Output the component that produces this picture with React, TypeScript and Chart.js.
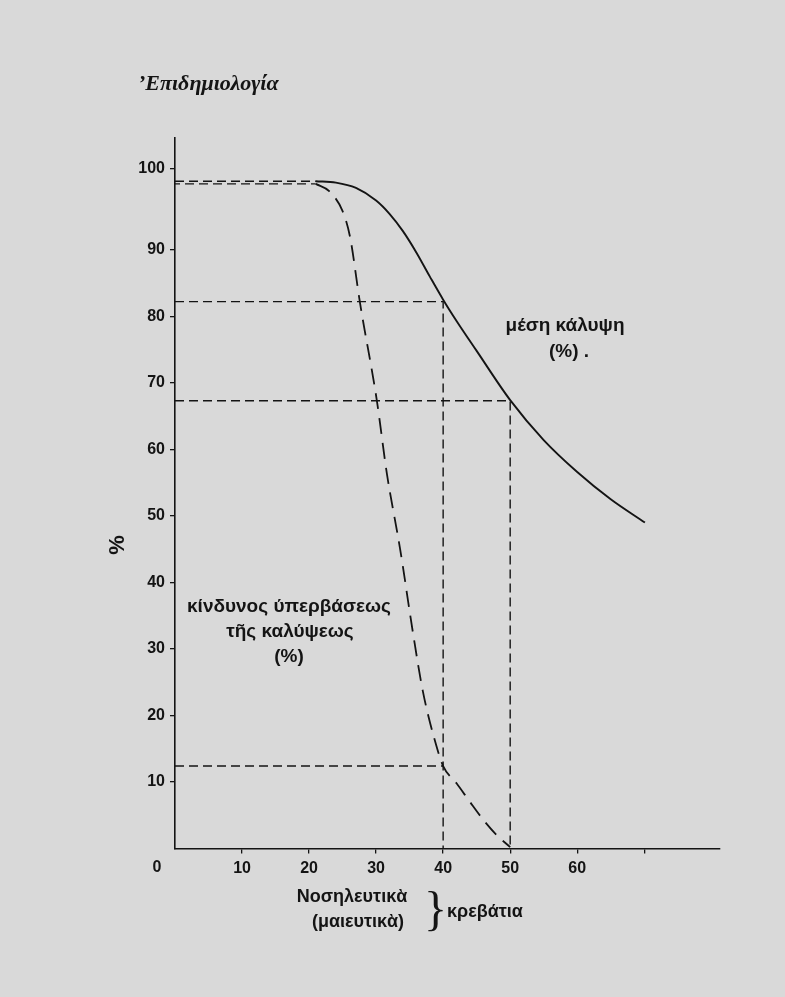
import React, { useEffect, useRef } from "react";
import { Chart, registerables } from "chart.js";

Chart.register(...registerables);

const W = 785;
const H = 997;
const BG = "#d9d9d9";
const INK = "#141414";

// axis ticks
const xTickValues = [10, 20, 30, 40, 50, 60, 70];
const xTickLabels = ["10", "20", "30", "40", "50", "60", ""];
const yTickValues = [10, 20, 30, 40, 50, 60, 70, 80, 90, 102.2];
const yTickLabels = ["10", "20", "30", "40", "50", "60", "70", "80", "90", "100"];

// μέση κάλυψη (%) — solid curve
const coverageFlatX = [0, 21];
const coverageFlatY = [100.3, 100.3];
const coverageX = [21, 24, 27, 30, 32, 34, 36, 38, 40, 42, 45, 50, 55, 60, 65, 70.1];
const coverageY = [100.3, 100.1, 99.3, 97.4, 95.4, 92.8, 89.6, 86.0, 82.5, 79.3, 74.8, 67.4, 61.4, 56.6, 52.5, 49];

// κίνδυνος ύπερβάσεως της καλύψεως (%) — dashed curve
const riskFlatX = [0, 21];
const riskFlatY = [99.9, 99.9];
const riskX = [21, 23, 25, 26.1, 27.6, 30.1, 31.6, 33.6, 35.5, 37, 39, 40, 42, 44, 46, 48, 50];
const riskY = [99.9, 98.8, 95.8, 92, 82, 67.4, 56.4, 44.9, 32.4, 23.5, 15.4, 12.4, 9.8, 7.0, 4.3, 2.0, 0.2];

// reading guides
const guideAX = [0, 40, 40];
const guideAY = [82.2, 82.2, 0];
const guideBX = [0, 50, 50];
const guideBY = [67.3, 67.3, 0];
const guideCX = [0, 40];
const guideCY = [12.4, 12.4];

const pts = (xs: number[], ys: number[]) => xs.map((x, i) => ({ x, y: ys[i] }));

const textPlugin = {
  id: "texts",
  afterDraw(chart: any) {
    const ctx = chart.ctx as CanvasRenderingContext2D;
    ctx.save();
    ctx.fillStyle = INK;
    ctx.textBaseline = "middle";

    // title
    ctx.textAlign = "left";
    ctx.font = "italic bold 22px 'Liberation Serif'";
    ctx.fillText("’Επιδημιολογία", 138, 84);

    // y title
    ctx.save();
    ctx.translate(118, 545);
    ctx.rotate(-Math.PI / 2);
    ctx.textAlign = "center";
    ctx.font = "bold 22px 'Liberation Sans'";
    ctx.fillText("%", 0, 0);
    ctx.restore();

    ctx.textAlign = "center";
    // origin label
    ctx.font = "bold 16px 'Liberation Sans'";
    ctx.fillText("0", 157, 868);

    ctx.font = "bold 19px 'Liberation Sans'";
    ctx.fillText("μέση κάλυψη", 565, 326);
    ctx.fillText("(%) .", 569, 352);
    ctx.fillText("κίνδυνος ύπερβάσεως", 289, 607);
    ctx.fillText("τῆς καλύψεως", 290, 632);
    ctx.fillText("(%)", 289, 657);

    ctx.font = "bold 18px 'Liberation Sans'";
    ctx.fillText("Νοσηλευτικὰ", 352, 897);
    ctx.fillText("(μαιευτικὰ)", 358, 922);
    ctx.textAlign = "left";
    ctx.fillText("κρεβάτια", 447, 912);
    ctx.font = "48px 'Liberation Serif'";
    ctx.fillText("}", 424, 912);
    ctx.restore();
  },
};

export default function App() {
  const ref = useRef<HTMLCanvasElement | null>(null);

  useEffect(() => {
    document.body.style.margin = "0";
    document.body.style.background = BG;
    const canvas = ref.current;
    if (!canvas) return;

    const guideStyle = {
      borderColor: INK,
      borderWidth: 1.4,
      borderDash: [9, 5],
      pointRadius: 0,
      tension: 0,
      fill: false,
    };

    const chart = new Chart(canvas, {
      type: "line",
      data: {
        datasets: [
          { ...guideStyle, data: pts(guideAX, guideAY) },
          { ...guideStyle, data: pts(guideBX, guideBY) },
          { ...guideStyle, data: pts(guideCX, guideCY) },
          { ...guideStyle, data: pts(coverageFlatX, coverageFlatY) },
          { ...guideStyle, data: pts(riskFlatX, riskFlatY), borderDashOffset: 4 },
          {
            data: pts(coverageX, coverageY),
            borderColor: INK,
            borderWidth: 1.9,
            pointRadius: 0,
            cubicInterpolationMode: "monotone",
            fill: false,
          },
          {
            data: pts(riskX, riskY),
            borderColor: INK,
            borderWidth: 1.8,
            borderDash: [16, 9],
            pointRadius: 0,
            cubicInterpolationMode: "monotone",
            fill: false,
          },
        ],
      },
      options: {
        responsive: false,
        animation: false,
        devicePixelRatio: 1,
        layout: { padding: { left: 0, right: 65, top: 138, bottom: 0 } },
        plugins: { legend: { display: false }, tooltip: { enabled: false } },
        scales: {
          x: {
            type: "linear",
            min: 0,
            max: 81.3,
            afterFit(s: any) {
              s.height = 148.5;
            },
            afterBuildTicks(s: any) {
              s.ticks = xTickValues.map((v) => ({ value: v }));
            },
            ticks: {
              autoSkip: false,
              maxRotation: 0,
              padding: 5,
              color: INK,
              font: { family: "'Liberation Sans'", size: 16, weight: "bold" },
              callback: (_v: any, i: number) => xTickLabels[i],
            },
            grid: { drawOnChartArea: false, drawTicks: true, tickLength: 5, color: INK, lineWidth: 1.3 },
            border: { color: INK, width: 1.6 },
          },
          y: {
            type: "linear",
            min: 0,
            max: 106.8,
            afterFit(s: any) {
              s.width = 175;
            },
            afterBuildTicks(s: any) {
              s.ticks = yTickValues.map((v) => ({ value: v }));
            },
            ticks: {
              autoSkip: false,
              padding: 5,
              color: INK,
              font: { family: "'Liberation Sans'", size: 16, weight: "bold" },
              callback: (_v: any, i: number) => yTickLabels[i],
            },
            grid: { drawOnChartArea: false, drawTicks: true, tickLength: 5, color: INK, lineWidth: 1.3 },
            border: { color: INK, width: 1.6 },
          },
        },
      },
      plugins: [textPlugin],
    } as any);

    return () => chart.destroy();
  }, []);

  return (
    <div style={{ width: W, height: H, background: BG }}>
      <canvas ref={ref} width={W} height={H} style={{ display: "block", width: W, height: H }} />
    </div>
  );
}
